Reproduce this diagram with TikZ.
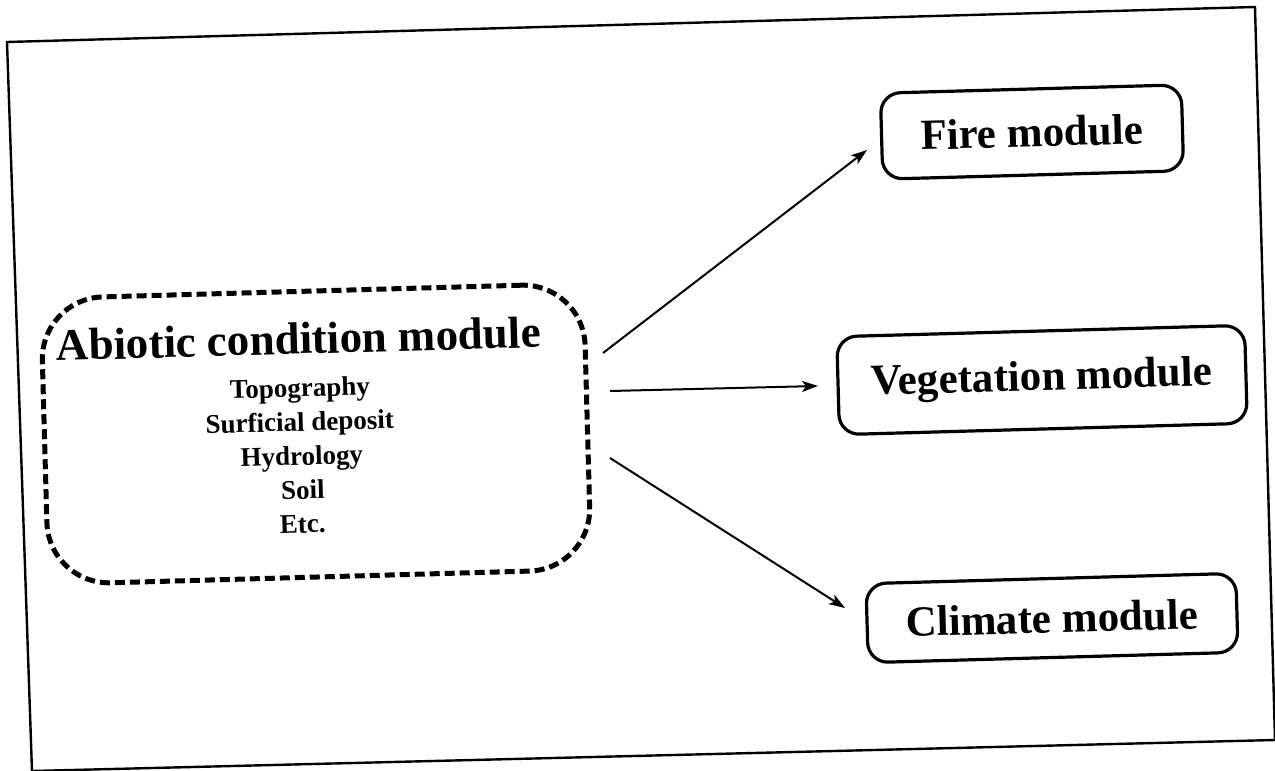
\documentclass[tikz,border=0pt]{standalone}
\usepackage{fontspec}
\setmainfont{Liberation Serif}
\usetikzlibrary{arrows.meta}
\begin{document}
\begin{tikzpicture}[x=1pt, y=-1pt,
  tilt/.style={rotate=1.6},
  frameline/.style={line width=2.4pt},
  modulebox/.style={tilt, draw, line width=3.2pt, rounded corners=20pt,
    inner sep=0pt, align=center, font=\fontsize{43}{50}\selectfont\bfseries},
  abioticbox/.style={tilt, draw, line width=5pt, dash pattern=on 10pt off 5pt,
    rounded corners=62pt, inner sep=0pt},
  title/.style={tilt, anchor=base, inner sep=0pt, font=\fontsize{45}{50}\selectfont\bfseries},
  item/.style={tilt, anchor=base, inner sep=0pt, font=\fontsize{27}{30}\selectfont\bfseries},
  flow/.style={line width=2pt, -{Stealth[length=16pt, width=11pt, inset=4pt]}}
]
\useasboundingbox (0,0) rectangle (1275,771);

% outer frame
\draw[frameline] (7,42) -- (1255,7) -- (1275,740) -- (32,771) -- cycle;

% abiotic condition module
\node[abioticbox, minimum width=543pt, minimum height=286pt] (abiotic) at (316,434) {};
\node[title] (abtitle) at (299,354) {Abiotic condition module};
\node[item] (topo) at (300,397) {Topography};
\node[item] (surf) at (300,431) {Surficial deposit};
\node[item] (hydro) at (302,465) {Hydrology};
\node[item] (soil) at (303,499) {Soil};
\node[item] (etc) at (303,533) {Etc.};

% target modules
\node[modulebox, minimum width=301pt, minimum height=86pt] (fire) at (1032,132) {Fire module};
\node[modulebox, minimum width=408pt, minimum height=98pt] (veg) at (1042,380) {Vegetation module};
\node[modulebox, minimum width=370pt, minimum height=79pt] (climate) at (1052,618) {Climate module};

% connectors
\draw[flow] ([shift={(287,-81)}]abiotic.center) -- ([shift={(-165,18)}]fire.center);
\draw[flow] ([shift={(294,-43)}]abiotic.center) -- ([shift={(-224,6)}]veg.center);
\draw[flow] ([shift={(294,24)}]abiotic.center) -- ([shift={(-207,-10)}]climate.center);
\end{tikzpicture}
\end{document}
